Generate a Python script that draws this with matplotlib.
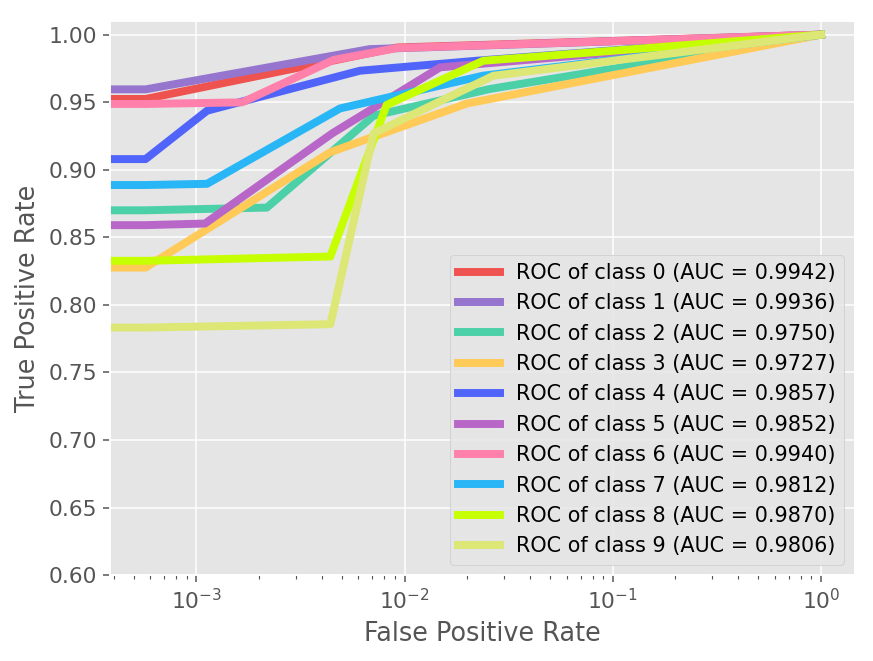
import numpy as np
import matplotlib
matplotlib.use('Agg')
import matplotlib.pyplot as plt

plt.style.use('ggplot')

# ROC points (fpr = 0 points run off the left edge on log scale)
fpr_0 = [0, 5.7e-4, 9.2e-3, 1.0]
tpr_0 = [0.9524, 0.9524, 0.9905, 1.0]
fpr_1 = [0, 5.7e-4, 6.8e-3, 1.0]
tpr_1 = [0.9595, 0.9595, 0.9893, 1.0]
fpr_2 = [0, 5.7e-4, 2.18e-3, 7.1e-3, 0.0257, 1.0]
tpr_2 = [0.870, 0.870, 0.872, 0.940, 0.9598, 1.0]
fpr_3 = [0, 5.7e-4, 4.4e-3, 0.0199, 1.0]
tpr_3 = [0.8276, 0.8276, 0.913, 0.949, 1.0]
fpr_4 = [0, 5.7e-4, 1.125e-3, 6.1e-3, 0.0222, 1.0]
tpr_4 = [0.9079, 0.9079, 0.9437, 0.9733, 0.9807, 1.0]
fpr_5 = [0, 5.7e-4, 1.1e-3, 4.5e-3, 0.0148, 1.0]
tpr_5 = [0.859, 0.859, 0.8602, 0.927, 0.9758, 1.0]
fpr_6 = [0, 5.7e-4, 1.66e-3, 4.56e-3, 9.2e-3, 1.0]
tpr_6 = [0.9487, 0.9487, 0.9499, 0.9813, 0.9901, 1.0]
fpr_7 = [0, 5.7e-4, 1.125e-3, 4.9e-3, 0.0238, 1.0]
tpr_7 = [0.8887, 0.8887, 0.8896, 0.9454, 0.9696, 1.0]
fpr_8 = [0, 5.7e-4, 4.4e-3, 8.2e-3, 0.0239, 1.0]
tpr_8 = [0.8326, 0.8326, 0.8358, 0.948, 0.9807, 1.0]
fpr_9 = [0, 5.7e-4, 4.4e-3, 7.1e-3, 0.0267, 1.0]
tpr_9 = [0.7832, 0.7832, 0.7857, 0.927, 0.9696, 1.0]

aucs = [0.9942, 0.9936, 0.9750, 0.9727, 0.9857, 0.9852, 0.9940, 0.9812, 0.9870, 0.9806]
colors = ['#EF5350', '#9575CD', '#4CD0A8', '#FFCA57', '#5064FA',
          '#B866C8', '#FF80AB', '#29B6F6', '#C6FF00', '#DCE775']

fprs = [fpr_0, fpr_1, fpr_2, fpr_3, fpr_4, fpr_5, fpr_6, fpr_7, fpr_8, fpr_9]
tprs = [tpr_0, tpr_1, tpr_2, tpr_3, tpr_4, tpr_5, tpr_6, tpr_7, tpr_8, tpr_9]

fig = plt.figure(figsize=(873 / 136, 661 / 136), dpi=136)
ax = fig.add_axes([0.126, 0.13, 0.853, 0.838])

for i in range(10):
    ax.plot(fprs[i], tprs[i], color=colors[i], lw=4.2,
            label=f'ROC of class {i} (AUC = {aucs[i]:.4f})')

ax.set_xscale('log')
ax.set_xlim(10 ** -3.415, 10 ** 0.162)
ax.set_ylim(0.6, 1.01)
ax.set_xlabel('False Positive Rate', fontsize=13.5)
ax.set_ylabel('True Positive Rate', fontsize=13.5)
ax.tick_params(labelsize=11.5)
ax.legend(loc='lower right', fontsize=11)

fig.savefig('out.png', dpi=136)
